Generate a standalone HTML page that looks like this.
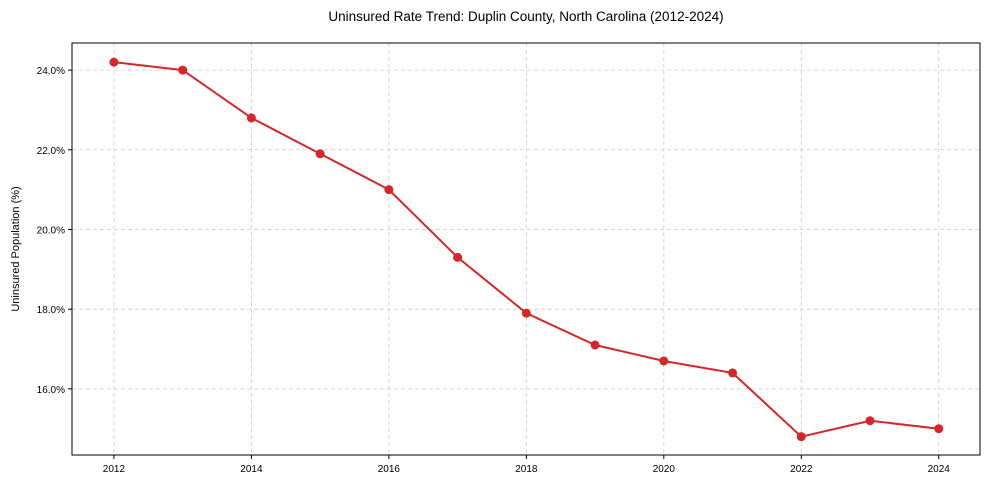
<!DOCTYPE html>
<html><head><meta charset="utf-8"><style>
body{margin:0;background:#fff;font-family:"Liberation Sans",Arial,sans-serif}
svg text{font-family:"Liberation Sans",Arial,sans-serif;fill:#000}
</style></head><body>
<svg id="chart" width="989" height="490">
<rect width="989" height="490" fill="#fff"/>
<text x="526" y="21" font-size="13.5" text-anchor="middle">Uninsured Rate Trend: Duplin County, North Carolina (2012-2024)</text>
<text transform="translate(19,249) rotate(-90)" font-size="11" text-anchor="middle">Uninsured Population (%)</text>
<g id="grid"></g><g id="axes"></g><g id="series"></g>
<rect x="72" y="43" width="908" height="412" fill="none" stroke="#000" stroke-width="1"/>
</svg>
<script>
const years=[2012,2013,2014,2015,2016,2017,2018,2019,2020,2021,2022,2023,2024];
const rates=[24.2,24.0,22.8,21.9,21.0,19.3,17.9,17.1,16.7,16.4,14.8,15.2,15.0];
const xTicks=[2012,2014,2016,2018,2020,2022,2024];
const yTicks=[16,18,20,22,24];
const L=72,R=980,T=43,B=455,x0=2011.39,x1=2024.6,y0=14.34,y1=24.68;
const sx=v=>L+(v-x0)/(x1-x0)*(R-L);
const sy=v=>B-(v-y0)/(y1-y0)*(B-T);
const NS="http://www.w3.org/2000/svg";
function mk(tag,attrs,parent){const e=document.createElementNS(NS,tag);for(const k in attrs)e.setAttribute(k,attrs[k]);document.getElementById(parent).appendChild(e);return e;}
xTicks.forEach(t=>{const x=sx(t);
 const g=mk('line',{x1:x,x2:x,y1:T,y2:B,stroke:'#ccc','stroke-dasharray':'4,3','stroke-width':0.8},'grid');
 
 
 const tk=mk('line',{x1:x,x2:x,y1:B,y2:B+4,stroke:'#000'},'axes');
 
 
 const tx=mk('text',{x:x,y:B+17,'font-size':10,'text-anchor':'middle'},'axes');tx.textContent=t;
 
 
});
yTicks.forEach(t=>{const y=sy(t);
 const g=mk('line',{x1:L,x2:R,y1:y,y2:y,stroke:'#ccc','stroke-dasharray':'4,3','stroke-width':0.8},'grid');
 
 
 const tk=mk('line',{x1:L-4,x2:L,y1:y,y2:y,stroke:'#000'},'axes');
 
 
 const tx=mk('text',{x:L-7,y:y+4,'font-size':10,'text-anchor':'end'},'axes');tx.textContent=t.toFixed(1)+'%';
 
 
});
const pl=mk('polyline',{points:years.map((y,i)=>sx(y)+','+sy(rates[i])).join(' '),fill:'none',stroke:'#d62728','stroke-width':2},'series');


years.forEach((y,i)=>{const c=mk('circle',{cx:sx(y),cy:sy(rates[i]),r:4.5,fill:'#d62728'},'series');
 
 
});
</script>
</body></html>
